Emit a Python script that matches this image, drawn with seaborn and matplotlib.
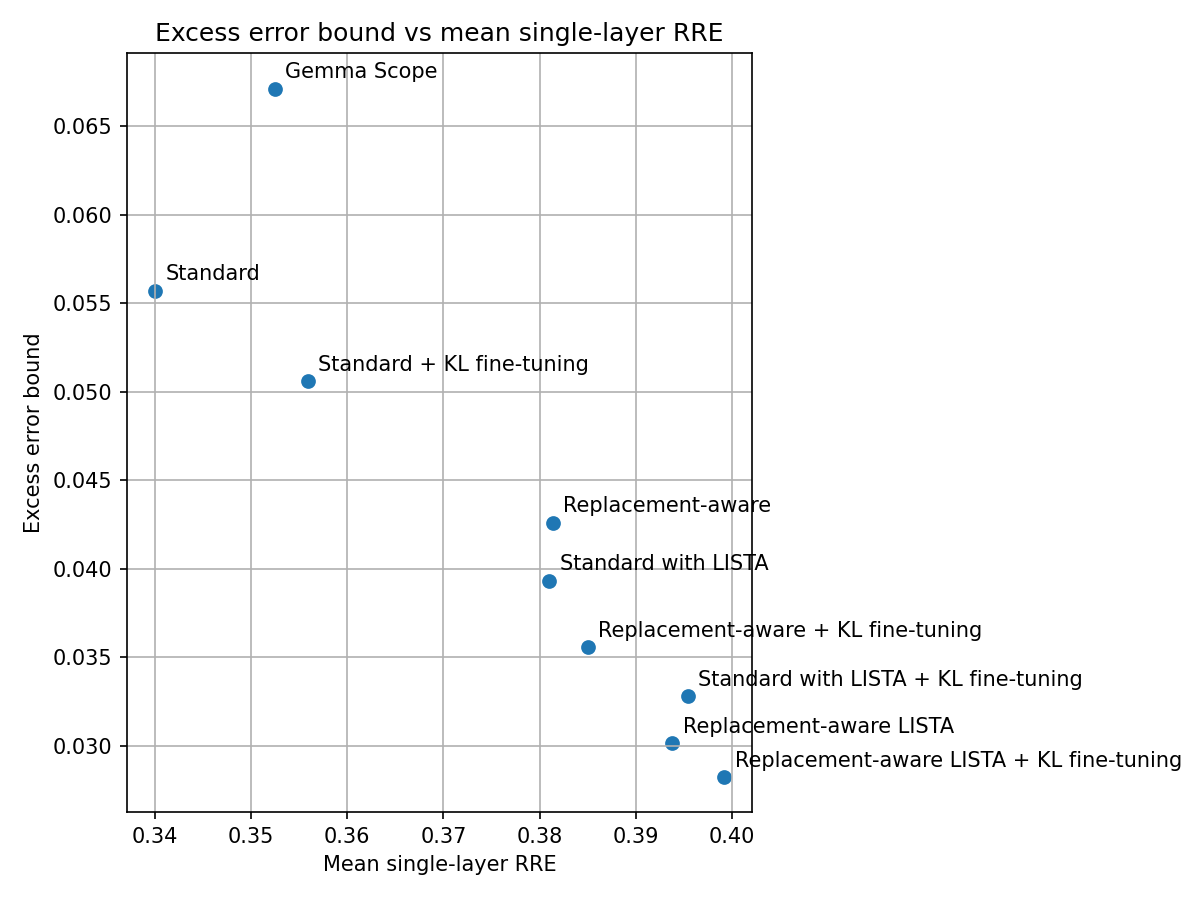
import matplotlib
matplotlib.use("Agg")
import matplotlib.pyplot as plt
import seaborn as sns
import pandas as pd

labels = [
    "Gemma Scope",
    "Standard",
    "Standard + KL fine-tuning",
    "Replacement-aware",
    "Standard with LISTA",
    "Replacement-aware + KL fine-tuning",
    "Standard with LISTA + KL fine-tuning",
    "Replacement-aware LISTA",
    "Replacement-aware LISTA + KL fine-tuning",
]
mean_rre = [0.3525, 0.3400, 0.3559, 0.3814, 0.3810, 0.3850, 0.3954, 0.3938, 0.3992]
excess_bound = [0.0671, 0.0557, 0.0506, 0.04259, 0.03931, 0.03558, 0.03280, 0.03015, 0.02823]

df = pd.DataFrame({"label": labels, "x": mean_rre, "y": excess_bound})

plt.rcParams["font.family"] = ["DejaVu Sans"]
fig = plt.figure(figsize=(8, 6), dpi=150)
ax = fig.add_axes([127 / 1200, (900 - 812) / 900, 625 / 1200, 759 / 900])

sns.scatterplot(data=df, x="x", y="y", ax=ax, color="#1f77b4", s=50, linewidth=0)

for lab, xv, yv in zip(labels, mean_rre, excess_bound):
    ax.annotate(lab, (xv, yv), xytext=(5, 5), textcoords="offset points", fontsize=10)

ax.set_xlim(0.3371, 0.4021)
ax.set_ylim(0.02626, 0.06912)
ax.set_xticks([0.34, 0.35, 0.36, 0.37, 0.38, 0.39, 0.40])
ax.set_yticks([0.030, 0.035, 0.040, 0.045, 0.050, 0.055, 0.060, 0.065])
ax.set_xticklabels(["0.34", "0.35", "0.36", "0.37", "0.38", "0.39", "0.40"])
ax.set_yticklabels(["0.030", "0.035", "0.040", "0.045", "0.050", "0.055", "0.060", "0.065"])
ax.grid(True)
ax.set_xlabel("Mean single-layer RRE")
ax.set_ylabel("Excess error bound")
ax.set_title("Excess error bound vs mean single-layer RRE")

fig.savefig("out.png", dpi=150)
